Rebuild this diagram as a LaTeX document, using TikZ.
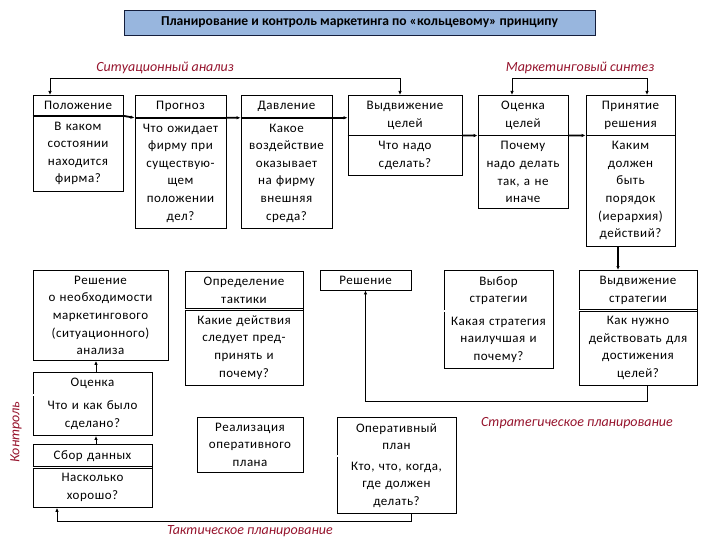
\documentclass[tikz,border=0pt]{standalone}
\usepackage{fontspec}
\setmainfont{Carlito}
\newfontfamily\boxfont[LetterSpace=4]{Carlito}
\usetikzlibrary{positioning,shapes.multipart,arrows.meta}
\definecolor{titleblue}{RGB}{152,182,222}
\definecolor{titleline}{RGB}{20,30,60}
\definecolor{tagred}{RGB}{150,20,45}

\begin{document}
\begin{tikzpicture}[x=1pt,y=-1pt,
    box/.style={draw, line width=0.8pt, align=center, anchor=north, inner xsep=2pt, inner ysep=5.6pt, font=\boxfont\fontsize{13}{17.6}\selectfont},
    splitbox/.style={box, rectangle split, rectangle split parts=2, rectangle split draw splits=false},
    tag/.style={font=\itshape\fontsize{14}{16}\selectfont, text=tagred},
    link/.style={-{Latex[length=4pt,width=3.5pt]}, line width=0.8pt},
    boldlink/.style={link, line width=1.8pt},
    bar/.style={line width=1.8pt},
    dbl/.style={double, double distance=1.4pt, line width=0.6pt}
   ]
   \useasboundingbox (0,0) rectangle (720,540);

   \node[draw=titleline, line width=0.8pt, fill=titleblue, minimum width=471pt, minimum height=25pt, font=\bfseries\fontsize{13.6}{15}\selectfont] (title) at (359.5,22.5) {Планирование и контроль маркетинга по «кольцевому» принципу};

   \node[tag] (sitlab) at (165,68) {Ситуационный анализ};
   \node[tag] (synlab) at (580,68) {Маркетинговый синтез};
   \node[tag] (taklab) at (250,531.5) {Тактическое планирование};
   \node[tag] (strlab) at (577,423) {Стратегическое планирование};
   \node[tag, rotate=90] (kontr) at (16,432) {Контроль};

   % top row
   \node[splitbox, text width=86pt] (pol) at (78,95) {Положение \nodepart{two} В каком\\состоянии\\находится\\фирма?};
   \node[splitbox, text width=87pt] (prog) at (180.5,95) {Прогноз \nodepart{two} Что ожидает\\фирму при\\существую-\\щем\\положении\\дел?};
   \node[splitbox, text width=87pt] (dav) at (286.5,95) {Давление \nodepart{two} Какое\\воздействие\\оказывает\\на фирму\\внешняя\\среда?};
   \node[splitbox, text width=110pt] (vydc) at (405,95) {Выдвижение\\целей \nodepart{two} Что надо\\сделать?};
   \node[splitbox, text width=86pt] (ocen) at (523,95) {Оценка\\целей \nodepart{two} Почему\\надо делать\\так, а не\\иначе};
   \node[splitbox, text width=85pt] (prin) at (630.5,95) {Принятие\\решения \nodepart{two} Каким\\должен\\быть\\порядок\\(иерархия)\\действий?};

   % second row
   \node[box, text width=131pt] (resh1) at (100.5,270) {Решение\\о необходимости\\маркетингового\\(ситуационного)\\анализа};
   \node[splitbox, text width=114pt] (takt) at (244,271) {Определение\\тактики \nodepart{two} Какие действия\\следует пред-\\принять и\\почему?};
   \node[box, text width=87pt] (resh2) at (365.5,270) {Решение};
   \node[splitbox, text width=105pt] (vybor) at (498.5,270) {Выбор\\стратегии \nodepart{two} Какая стратегия\\наилучшая и\\почему?};
   \node[splitbox, text width=114pt] (vstrat) at (638,270) {Выдвижение\\стратегии \nodepart{two} Как нужно\\действовать для\\достижения\\целей?};

   % bottom row
   \node[splitbox, text width=115pt] (ocenka) at (92.5,372) {Оценка \nodepart{two} Что и как было\\сделано?};
   \node[splitbox, text width=115pt] (sbor) at (92.5,444) {Сбор данных \nodepart{two} Насколько\\хорошо?};
   \node[box, text width=102pt] (real) at (250,417) {Реализация\\оперативного\\плана};
   \node[splitbox, text width=115pt] (oper) at (396.5,417) {Оперативный\\план \nodepart{two} Кто, что, когда,\\где должен\\делать?};

   \foreach \n in {pol,prog,dav,vydc,ocen,prin}
     \draw[bar] (\n.text split west) -- (\n.text split east);
   \foreach \n in {takt,vybor,vstrat,ocenka,sbor,oper}
     \draw[dbl] (\n.text split west) -- (\n.text split east);

  \draw[boldlink] (pol.text split east) -- (prog.text split west);
  \draw[boldlink] (prog.text split east) -- (dav.text split west);
  \draw[boldlink] (dav.text split east) -- (dav.text split east -| vydc.west);
  \draw[boldlink] (vydc.text split east) -- (ocen.text split west);
  \draw[boldlink] (ocen.text split east) -- (prin.text split west);

  \draw[link, {Latex[length=4pt,width=3.5pt]}-{Latex[length=4pt,width=3.5pt]}] ([xshift=-28pt]pol.north) -- ++(0,-17) -| ([xshift=-5pt]vydc.north);
  \draw[link, {Latex[length=4pt,width=3.5pt]}-{Latex[length=4pt,width=3.5pt]}] ([xshift=-11pt]ocen.north) -- ++(0,-17) -| ([xshift=16.5pt]prin.north);

  \draw[boldlink] ([xshift=-12.5pt]prin.south) -- ([xshift=-12.5pt]prin.south |- vstrat.north);
  \draw[link] ([xshift=9pt]vstrat.south) -- ++(0,15) -| (resh2.south);
  \draw[link] ([xshift=3.5pt]ocenka.north) -- ([xshift=3.5pt]ocenka.north |- resh1.south);
  \draw[link] ([xshift=3.5pt]sbor.north) -- ([xshift=3.5pt]sbor.north |- ocenka.south);
  \draw[link] ([xshift=14.5pt]oper.south) -- ++(0,7) -| ([xshift=-35.5pt]sbor.south);
 \end{tikzpicture}
\end{document}
